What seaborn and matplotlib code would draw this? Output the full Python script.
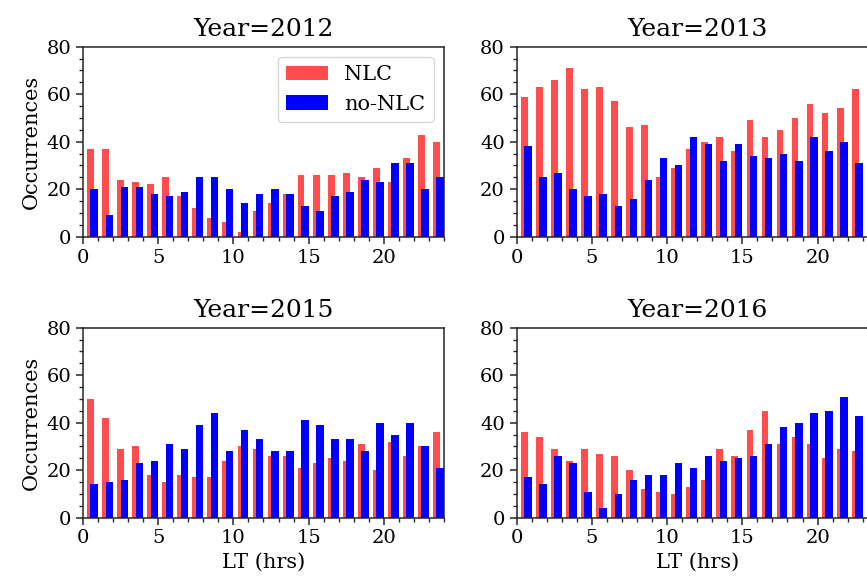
import numpy as np
import pandas as pd
import matplotlib
matplotlib.use("Agg")
import matplotlib.pyplot as plt
import seaborn as sns
from matplotlib.ticker import MultipleLocator

# === Data: hourly occurrences (LT 0..23) ===
hours = np.arange(24)
years = [2012, 2013, 2015, 2016]

nlc_2012 = [37, 37, 24, 23, 22, 25, 17, 12, 8, 6, 2, 11, 14, 18, 26, 26, 26, 27, 25, 29, 23, 33, 43, 40]
no_nlc_2012 = [20, 9, 21, 21, 18, 17, 19, 25, 25, 20, 14, 18, 20, 18, 13, 11, 17, 19, 24, 23, 31, 31, 20, 25]

nlc_2013 = [59, 63, 66, 71, 62, 63, 57, 46, 47, 25, 29, 37, 40, 42, 36, 49, 42, 45, 50, 56, 52, 54, 62, 60]
no_nlc_2013 = [38, 25, 27, 20, 17, 18, 13, 16, 24, 33, 30, 42, 39, 32, 39, 34, 33, 35, 32, 42, 36, 40, 31, 30]

nlc_2015 = [50, 42, 29, 30, 18, 15, 18, 17, 17, 24, 30, 29, 26, 26, 21, 23, 25, 24, 31, 20, 32, 26, 30, 36]
no_nlc_2015 = [14, 15, 16, 23, 24, 31, 29, 39, 44, 28, 37, 33, 28, 28, 41, 39, 33, 33, 28, 40, 35, 40, 30, 21]

nlc_2016 = [36, 34, 29, 24, 29, 27, 26, 20, 12, 11, 10, 13, 16, 29, 26, 37, 45, 31, 34, 31, 25, 29, 28, 30]
no_nlc_2016 = [17, 14, 26, 23, 11, 4, 10, 16, 18, 18, 23, 21, 26, 24, 25, 26, 31, 38, 40, 44, 45, 51, 43, 40]

nlc = [nlc_2012, nlc_2013, nlc_2015, nlc_2016]
no_nlc = [no_nlc_2012, no_nlc_2013, no_nlc_2015, no_nlc_2016]

# === Style ===
sns.set_style("ticks")
plt.rcParams["font.family"] = ["DejaVu Serif"]
plt.rcParams["text.color"] = "black"
plt.rcParams["axes.labelcolor"] = "black"
plt.rcParams["xtick.direction"] = "out"
plt.rcParams["ytick.direction"] = "out"

fig = plt.figure(figsize=(8.67, 5.82), dpi=100)

# axes placed by hand (right column runs past the figure edge, as in the original)
positions = [
    [0.0957, 0.5933, 0.4164, 0.3265],
    [0.5960, 0.5933, 0.4164, 0.3265],
    [0.0957, 0.1105, 0.4164, 0.3265],
    [0.5960, 0.1105, 0.4164, 0.3265],
]

for i, year in enumerate(years):
    ax = fig.add_axes(positions[i])
    df = pd.DataFrame({"LT": hours, "NLC": nlc[i], "noNLC": no_nlc[i]})

    sns.barplot(x=df["LT"] + 0.5, y=df["NLC"], native_scale=True, width=0.45,
                color="#ff4d4d", saturation=1, errorbar=None, label="NLC",
                linewidth=0, edgecolor="none", ax=ax)
    sns.barplot(x=df["LT"] + 0.75, y=df["noNLC"], native_scale=True, width=0.5,
                color="#0000ff", saturation=1, errorbar=None, label="no-NLC",
                linewidth=0, edgecolor="none", ax=ax)

    ax.set_xlim(0, 24)
    ax.set_ylim(0, 80)
    ax.xaxis.set_major_locator(MultipleLocator(5))
    ax.xaxis.set_minor_locator(MultipleLocator(1))
    ax.yaxis.set_major_locator(MultipleLocator(20))
    ax.yaxis.set_minor_locator(MultipleLocator(5))
    ax.tick_params(which="major", length=5, width=1.1, labelsize=14, labelcolor="black")
    ax.tick_params(which="minor", length=3, width=1)
    for s in ax.spines.values():
        s.set_linewidth(1.1)
        s.set_visible(True)

    ax.set_title(f"Year={year}", fontsize=18, pad=8, color="black")
    ax.set_ylabel("Occurrences" if i % 2 == 0 else "", fontsize=15)
    ax.set_xlabel("LT (hrs)" if i >= 2 else "", fontsize=15)

    if i == 0:
        ax.legend(loc="upper right", fontsize=15)
    else:
        leg = ax.get_legend()
        if leg is not None:
            leg.remove()

plt.savefig("out.png", dpi=100)
